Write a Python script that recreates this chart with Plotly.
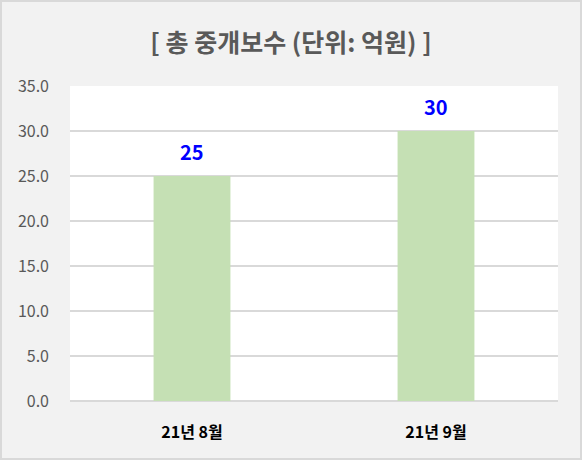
import plotly.graph_objects as go

categories = ["21년 8월", "21년 9월"]
values = [25, 30]
y_ticks = [0, 5, 10, 15, 20, 25, 30, 35]

W, H = 582, 460
L, R, T, B = 70, 24, 86, 59
pw, ph = W - L - R, H - T - B
FONT = "Noto Sans CJK KR"

fig = go.Figure()
fig.add_trace(go.Bar(
    x=categories, y=values,
    marker=dict(color="#c5e0b4", line=dict(width=0)),
    width=0.315,
    hoverinfo="x+y",
))

for c, v in zip(categories, values):
    fig.add_annotation(
        x=c, y=v, text=f"<b>{v}</b>", showarrow=False,
        yanchor="bottom", yshift=8,
        font=dict(color="#0000ff", size=20, family=FONT),
    )

fig.update_layout(
    width=W, height=H,
    margin=dict(l=L, r=R, t=T, b=B),
    paper_bgcolor="#f2f2f2",
    plot_bgcolor="#ffffff",
    showlegend=False,
    font=dict(family=FONT, color="#595959"),
    title=dict(
        text="<b>[ 총 중개보수 (단위: 억원) ]</b>",
        x=0.5, xanchor="center", y=1 - 43 / H, yanchor="middle",
        font=dict(size=25, color="#595959", family=FONT),
    ),
    xaxis=dict(
        showgrid=False, showline=False, zeroline=False,
        tickvals=categories, ticktext=[f"<b>{c}</b>" for c in categories],
        tickfont=dict(size=16, color="#000000", family=FONT),
        ticks="", ticklabelstandoff=20,
    ),
    yaxis=dict(
        range=[0, 35], tickvals=y_ticks, tickformat=".1f",
        showgrid=True, gridcolor="#d9d9d9", gridwidth=1.5,
        zeroline=True, zerolinecolor="#d9d9d9", zerolinewidth=1.5,
        showline=False, ticks="",
        tickfont=dict(size=16, color="#595959", family=FONT),
        ticklabelstandoff=20,
    ),
    shapes=[dict(
        type="rect", xref="paper", yref="paper",
        x0=(1 - L) / pw, x1=(W - 1 - L) / pw,
        y0=(H - B - (H - 1)) / ph, y1=(H - B - 1) / ph,
        line=dict(color="#d9d9d9", width=2), layer="above",
    )],
)

fig.write_html(
    "out.html",
    config={"displayModeBar": False},
    post_script="document.body.style.margin='0';document.body.style.padding='0';",
)
